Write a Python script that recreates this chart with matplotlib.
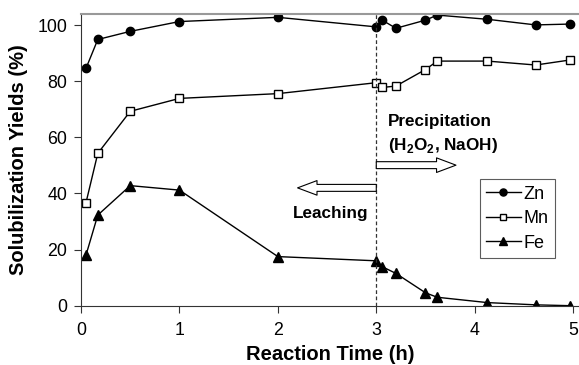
import matplotlib
matplotlib.use("Agg")
from matplotlib import pyplot as plt

plt.rcParams['font.family'] = ['Liberation Sans', 'DejaVu Sans']
plt.rcParams['mathtext.fontset'] = 'custom'
plt.rcParams['mathtext.rm'] = 'Liberation Sans:bold'
plt.rcParams['mathtext.bf'] = 'Liberation Sans:bold'

# reaction time (h)
time = [0.05, 0.17, 0.5, 1.0, 2.0, 3.0, 3.06, 3.2, 3.5, 3.62, 4.13, 4.62, 4.97]
zn = [84.6, 94.9, 97.8, 101.3, 102.8, 99.4, 101.8, 98.9, 101.8, 103.6, 102.1, 100.1, 100.4]
mn = [36.7, 54.3, 69.3, 73.9, 75.6, 79.5, 77.8, 78.3, 84.2, 87.2, 87.2, 85.8, 87.6]
fe = [18.0, 32.3, 42.8, 41.2, 17.5, 16.0, 13.9, 11.5, 4.6, 3.0, 1.1, 0.3, 0.0]

x_ticks = [0, 1, 2, 3, 4, 5]
y_ticks = [0, 20, 40, 60, 80, 100]

figure = plt.figure(figsize=(5.79, 3.65), dpi=100)
axis = figure.add_axes([0.14, 0.1625, 0.86, 0.80])

axis.plot(time, zn, '-o', color='black', lw=1, ms=6, label='Zn')
axis.plot(time, mn, '-s', color='black', mfc='white', lw=1, ms=5.5, mew=1, label='Mn')
axis.plot(time, fe, '-^', color='black', lw=1, ms=6.5, label='Fe')

axis.axvline(3, color='#333333', lw=0.9, ls=(0, (3, 2)))

# hollow arrows
arrow_style = 'simple,head_width=1.05,head_length=1.4,tail_width=0.5'
axis.annotate('', xy=(3.81, 50.1), xytext=(3.0, 50.1),
              arrowprops=dict(arrowstyle=arrow_style, fc='white', ec='black', lw=0.8,
                              shrinkA=0, shrinkB=0, mutation_scale=10))
axis.annotate('', xy=(2.2, 42), xytext=(3.0, 42),
              arrowprops=dict(arrowstyle=arrow_style, fc='white', ec='black', lw=0.8,
                              shrinkA=0, shrinkB=0, mutation_scale=10))

axis.text(3.12, 65.6, 'Precipitation', fontsize=12.3, fontweight='bold', va='center')
axis.text(3.12, 57, r'(H$_{\mathbf{2}}$O$_{\mathbf{2}}$, NaOH)', fontsize=12.3,
          fontweight='bold', va='center')
axis.text(2.15, 33, 'Leaching', fontsize=12.3, fontweight='bold', va='center')

axis.set_xlim(0, 5.06)
axis.set_ylim(0, 104.1)
axis.set_xticks(x_ticks)
axis.set_yticks(y_ticks)
axis.tick_params(labelsize=12.8, direction='out', length=5, color='#333333')
axis.tick_params(axis='x', pad=7)
axis.tick_params(axis='y', pad=5)

axis.spines['right'].set_visible(False)
axis.spines['top'].set_color('#999999')
axis.spines['top'].set_linewidth(1.5)
for side in ['left', 'bottom']:
    axis.spines[side].set_color('#333333')

axis.set_xlabel('Reaction Time (h)', fontsize=14.5, fontweight='bold', labelpad=4)
axis.set_ylabel('Solubilization Yields (%)', fontsize=14.5, fontweight='bold', labelpad=7)

legend = axis.legend(loc='upper left', bbox_to_anchor=(0.801, 0.433), fontsize=13,
                     fancybox=False, handlelength=1.9, handletextpad=0.15,
                     borderaxespad=0, labelspacing=0.42, borderpad=0.35, markerscale=0.85)
legend.get_frame().set_edgecolor('#333333')
legend.get_frame().set_linewidth(0.8)

figure.savefig('out.png', dpi=100)
